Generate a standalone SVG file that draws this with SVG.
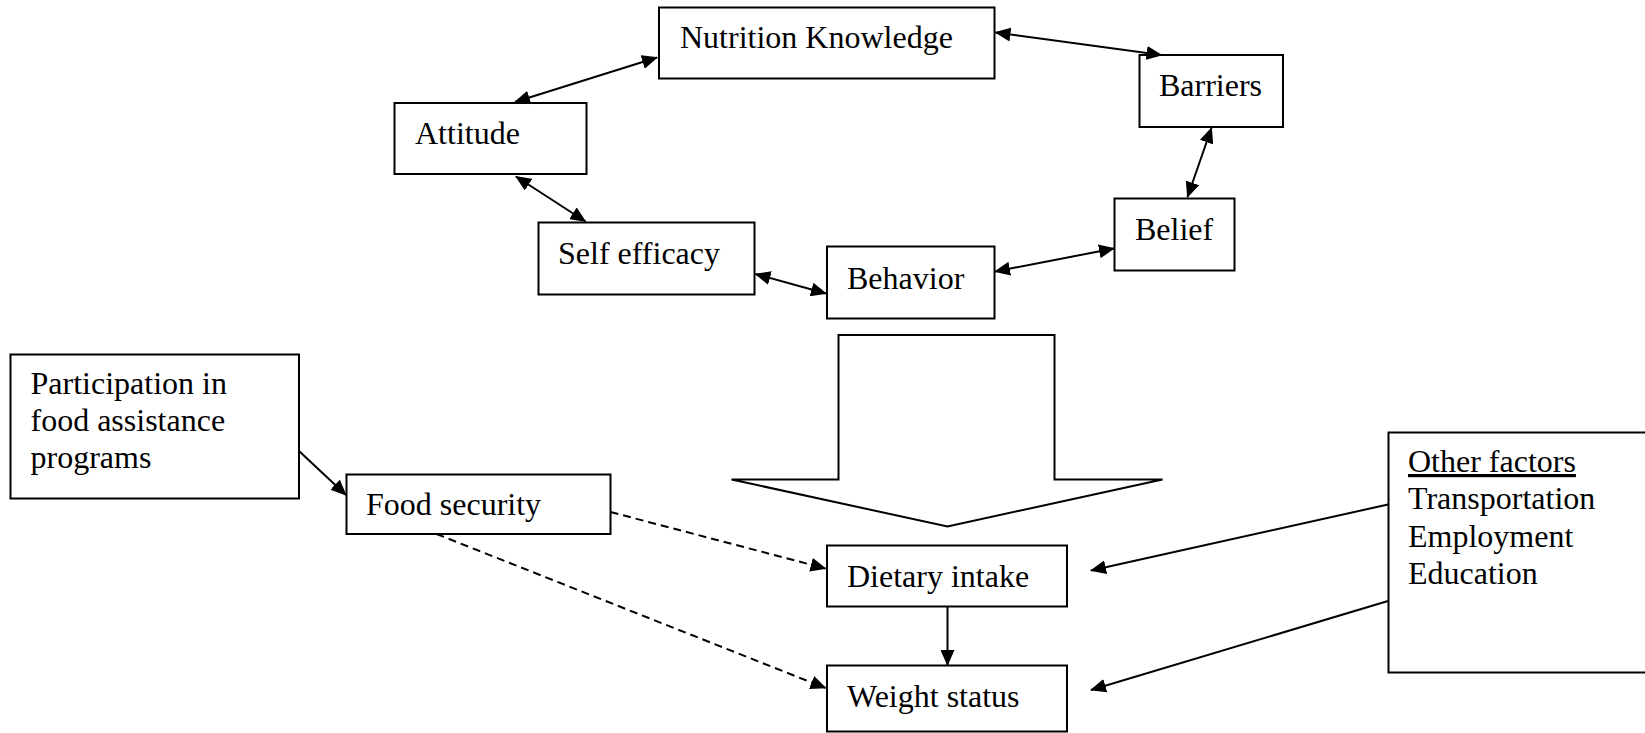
<svg xmlns="http://www.w3.org/2000/svg" width="1645" height="733" viewBox="0 0 1645 733">
<style>
.box{fill:#fff;stroke:#000;stroke-width:2}
.t{font-family:"Liberation Serif","Times New Roman",serif;font-size:32px;fill:#000}
.c{stroke:#000;stroke-width:2;fill:none}
.d{stroke-dasharray:8 5}
</style>
<defs>
<marker id="ah" markerUnits="userSpaceOnUse" markerWidth="16" markerHeight="14" refX="15" refY="7" orient="auto-start-reverse" viewBox="0 0 16 14">
<path d="M0,0 L16,7 L0,14 z" fill="#000"/>
</marker>
</defs>
<rect width="1645" height="733" fill="#fff"/>
<g id="nk"><rect class="box" x="659" y="7.5" width="335.5" height="71"/><text class="t" x="680" y="48">Nutrition Knowledge</text></g>
<g id="barriers"><rect class="box" x="1139.5" y="55" width="143.5" height="72"/><text class="t" x="1159" y="96">Barriers</text></g>
<g id="attitude"><rect class="box" x="394.5" y="103" width="192" height="71"/><text class="t" x="415" y="144">Attitude</text></g>
<g id="selfeff"><rect class="box" x="538.5" y="222.5" width="216" height="72"/><text class="t" x="558" y="264">Self efficacy</text></g>
<g id="behavior"><rect class="box" x="827" y="246.5" width="167.5" height="72"/><text class="t" x="847" y="289">Behavior</text></g>
<g id="belief"><rect class="box" x="1114.5" y="198.5" width="120" height="72"/><text class="t" x="1135" y="240">Belief</text></g>
<g id="participation"><rect class="box" x="10.5" y="354.5" width="288.5" height="144"/><text class="t" x="30.5" y="394">Participation in</text><text class="t" x="30.5" y="431">food assistance</text><text class="t" x="30.5" y="468">programs</text></g>
<g id="foodsec"><rect class="box" x="346.5" y="474.5" width="264" height="59.5"/><text class="t" x="366" y="515">Food security</text></g>
<g id="bigarrow"><path class="box" d="M838.5,335 L1054.5,335 L1054.5,479.5 L1162.5,479.5 L947.5,526.5 L731.5,479.5 L838.5,479.5 Z"/></g>
<g id="dietary"><rect class="box" x="827" y="545.5" width="240" height="61"/><text class="t" x="847" y="587">Dietary intake</text></g>
<g id="weight"><rect class="box" x="827" y="665.5" width="240" height="66"/><text class="t" x="847" y="707">Weight status</text></g>
<g id="other"><rect class="box" x="1388.5" y="432.5" width="270" height="240"/><text class="t" x="1408" y="472" text-decoration="underline">Other factors</text><text class="t" x="1408" y="509">Transportation</text><text class="t" x="1408" y="546.5">Employment</text><text class="t" x="1408" y="583.5">Education</text></g>
<g id="connectors">
<line class="c" x1="657" y1="57.5" x2="515" y2="102" marker-start="url(#ah)" marker-end="url(#ah)"/>
<line class="c" x1="995.5" y1="32.5" x2="1161.5" y2="55" marker-start="url(#ah)" marker-end="url(#ah)"/>
<line class="c" x1="1211.5" y1="128" x2="1187.5" y2="197" marker-start="url(#ah)" marker-end="url(#ah)"/>
<line class="c" x1="1114" y1="248.5" x2="995" y2="271.5" marker-start="url(#ah)" marker-end="url(#ah)"/>
<line class="c" x1="826" y1="293.5" x2="755.5" y2="274" marker-start="url(#ah)" marker-end="url(#ah)"/>
<line class="c" x1="585.5" y1="221.5" x2="516" y2="176.5" marker-start="url(#ah)" marker-end="url(#ah)"/>
<line class="c" x1="299" y1="451" x2="346" y2="495" marker-end="url(#ah)"/>
<line class="c d" x1="610.5" y1="512" x2="825.5" y2="568.5" marker-end="url(#ah)"/>
<line class="c d" x1="436.5" y1="534" x2="825.5" y2="688" marker-end="url(#ah)"/>
<line class="c" x1="947.5" y1="606.5" x2="947.5" y2="665" marker-end="url(#ah)"/>
<line class="c" x1="1388" y1="504.5" x2="1091" y2="570.5" marker-end="url(#ah)"/>
<line class="c" x1="1388" y1="601" x2="1091" y2="690" marker-end="url(#ah)"/>
</g>
</svg>
